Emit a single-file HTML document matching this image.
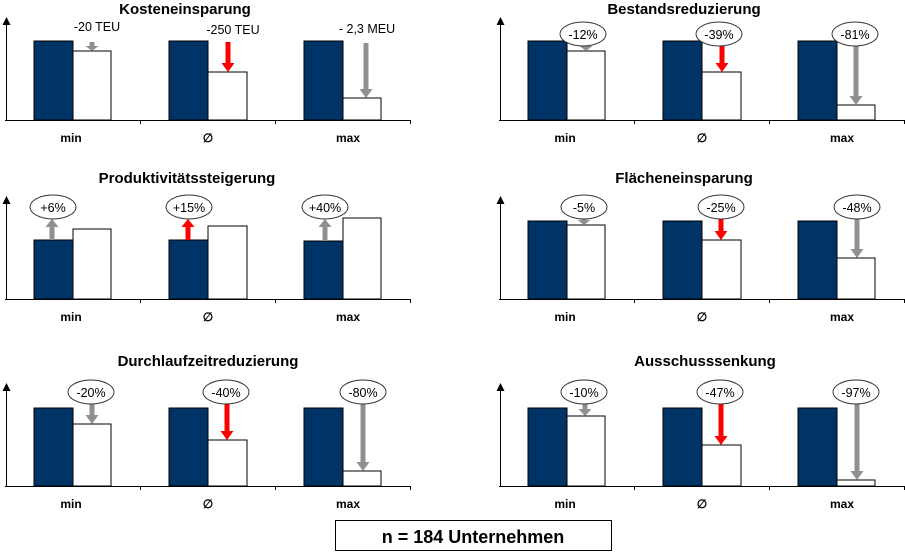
<!DOCTYPE html>
<html><head><meta charset="utf-8"><style>
html,body{margin:0;padding:0;background:#fff}
svg{display:block}
text{font-family:"Liberation Sans",Arial,sans-serif}
.t{font-size:15px;font-weight:bold;text-anchor:middle}
.l{font-size:12px;font-weight:bold;text-anchor:middle}
.v{font-size:12.5px;text-anchor:middle}
.d{fill:#003366;stroke:#000;stroke-width:1}
.w{fill:#fff;stroke:#000;stroke-width:1}
.e{fill:#fff;stroke:#333;stroke-width:1}
.g{fill:#909090}
.r{fill:#ff0000}
</style></head><body>
<svg width="905" height="553" viewBox="0 0 905 553" xmlns="http://www.w3.org/2000/svg">
<defs>
<g id="ax">
<line x1="6.5" y1="24" x2="6.5" y2="120" stroke="#000"/>
<polygon points="2.5,25 10.5,25 6.5,17" fill="#000"/>
<line x1="5" y1="120.5" x2="410" y2="120.5" stroke="#000"/>
<line x1="140.5" y1="120" x2="140.5" y2="124" stroke="#000"/>
<line x1="275.5" y1="120" x2="275.5" y2="124" stroke="#000"/>
<line x1="410.5" y1="120" x2="410.5" y2="124" stroke="#000"/>
<text class="l" x="71" y="142">min</text>
<text class="l" x="208" y="142">∅</text>
<text class="l" x="348" y="142">max</text>
</g>
</defs>

<!-- Panel 1: Kosteneinsparung -->
<g>
<use href="#ax"/>
<text class="t" x="185" y="14">Kosteneinsparung</text>
<rect class="d" x="34" y="41" width="39" height="79"/><rect class="w" x="73" y="51" width="38" height="69"/>
<rect class="d" x="169" y="41" width="39" height="79"/><rect class="w" x="208" y="72" width="39" height="48"/>
<rect class="d" x="304" y="41" width="39" height="79"/><rect class="w" x="343" y="98" width="38" height="22"/>
<text class="v" x="97" y="31">-20 TEU</text>
<text class="v" x="233" y="34">-250 TEU</text>
<text class="v" x="367" y="33">- 2,3 MEU</text>
<polygon class="g" points="89.5,42 94.5,42 94.5,46 98.5,46 92,51 85.5,46 89.5,46"/>
<polygon class="r" points="225.5,42 230.5,42 230.5,63 234.5,63 228,72 221.5,63 225.5,63"/>
<polygon class="g" points="363.5,43 368.5,43 368.5,89 372.5,89 366,98 359.5,89 363.5,89"/>
</g>

<!-- Panel 2: Bestandsreduzierung -->
<g transform="translate(494,0)">
<use href="#ax"/>
<text class="t" x="190" y="14">Bestandsreduzierung</text>
<rect class="d" x="34" y="41" width="39" height="79"/><rect class="w" x="73" y="51" width="38" height="69"/>
<rect class="d" x="169" y="41" width="39" height="79"/><rect class="w" x="208" y="72" width="39" height="48"/>
<rect class="d" x="304" y="41" width="39" height="79"/><rect class="w" x="343" y="105" width="38" height="15"/>
<polygon class="g" points="89.5,45 94.5,45 94.5,46 98.5,46 92,51 85.5,46 89.5,46"/>
<polygon class="r" points="225.5,45 230.5,45 230.5,63 234.5,63 228,72 221.5,63 225.5,63"/>
<polygon class="g" points="359.5,45 364.5,45 364.5,96 368.5,96 362,105 355.5,96 359.5,96"/>
<ellipse class="e" cx="89" cy="34" rx="23" ry="12"/><text class="v" x="89" y="39">-12%</text>
<ellipse class="e" cx="225" cy="34" rx="23" ry="12"/><text class="v" x="225" y="39">-39%</text>
<ellipse class="e" cx="361" cy="34" rx="23" ry="12"/><text class="v" x="361" y="39">-81%</text>
</g>

<!-- Panel 3: Produktivitätssteigerung -->
<g transform="translate(0,179)">
<use href="#ax"/>
<text class="t" x="187" y="4">Produktivitätssteigerung</text>
<rect class="d" x="34" y="61" width="39" height="59"/><rect class="w" x="73" y="50" width="38" height="70"/>
<rect class="d" x="169" y="61" width="39" height="59"/><rect class="w" x="208" y="47" width="39" height="73"/>
<rect class="d" x="304" y="62" width="39" height="58"/><rect class="w" x="343" y="39" width="38" height="81"/>
<polygon class="g" points="49.5,61 54.5,61 54.5,48 58.5,48 52,40 45.5,48 49.5,48"/>
<polygon class="r" points="185.5,61 190.5,61 190.5,48 194.5,48 188,40 181.5,48 185.5,48"/>
<polygon class="g" points="322.5,62 327.5,62 327.5,48 331.5,48 325,40 318.5,48 322.5,48"/>
<ellipse class="e" cx="53" cy="28" rx="23" ry="12"/><text class="v" x="53" y="33">+6%</text>
<ellipse class="e" cx="189" cy="28" rx="23" ry="12"/><text class="v" x="189" y="33">+15%</text>
<ellipse class="e" cx="325" cy="28" rx="23" ry="12"/><text class="v" x="325" y="33">+40%</text>
</g>

<!-- Panel 4: Flächeneinsparung -->
<g transform="translate(494,179)">
<use href="#ax"/>
<text class="t" x="190" y="4">Flächeneinsparung</text>
<rect class="d" x="34" y="42" width="39" height="78"/><rect class="w" x="73" y="46" width="38" height="74"/>
<rect class="d" x="169" y="42" width="39" height="78"/><rect class="w" x="208" y="61" width="39" height="59"/>
<rect class="d" x="304" y="42" width="39" height="78"/><rect class="w" x="343" y="79" width="38" height="41"/>
<polygon class="g" points="87.5,39 92.5,39 92.5,41 96.5,41 90,46 83.5,41 87.5,41"/>
<polygon class="r" points="224.5,39 229.5,39 229.5,52 233.5,52 227,61 220.5,52 224.5,52"/>
<polygon class="g" points="360.5,39 365.5,39 365.5,70 369.5,70 363,79 356.5,70 360.5,70"/>
<ellipse class="e" cx="90" cy="28" rx="23" ry="12"/><text class="v" x="90" y="33">-5%</text>
<ellipse class="e" cx="227" cy="28" rx="23" ry="12"/><text class="v" x="227" y="33">-25%</text>
<ellipse class="e" cx="363" cy="28" rx="23" ry="12"/><text class="v" x="363" y="33">-48%</text>
</g>

<!-- Panel 5: Durchlaufzeitreduzierung -->
<g transform="translate(0,366)">
<use href="#ax"/>
<text class="t" x="208" y="0">Durchlaufzeitreduzierung</text>
<rect class="d" x="34" y="42" width="39" height="78"/><rect class="w" x="73" y="58" width="38" height="62"/>
<rect class="d" x="169" y="42" width="39" height="78"/><rect class="w" x="208" y="74" width="39" height="46"/>
<rect class="d" x="304" y="42" width="39" height="78"/><rect class="w" x="343" y="105" width="38" height="15"/>
<polygon class="g" points="89.5,38 94.5,38 94.5,49 98.5,49 92,58 85.5,49 89.5,49"/>
<polygon class="r" points="224.5,38 229.5,38 229.5,65 233.5,65 227,74 220.5,65 224.5,65"/>
<polygon class="g" points="360.5,38 365.5,38 365.5,96 369.5,96 363,105 356.5,96 360.5,96"/>
<ellipse class="e" cx="91" cy="26" rx="23" ry="12"/><text class="v" x="91" y="31">-20%</text>
<ellipse class="e" cx="226" cy="26" rx="23" ry="12"/><text class="v" x="226" y="31">-40%</text>
<ellipse class="e" cx="363" cy="26" rx="23" ry="12"/><text class="v" x="363" y="31">-80%</text>
</g>

<!-- Panel 6: Ausschusssenkung -->
<g transform="translate(494,366)">
<use href="#ax"/>
<text class="t" x="211" y="0">Ausschusssenkung</text>
<rect class="d" x="34" y="42" width="39" height="78"/><rect class="w" x="73" y="50" width="38" height="70"/>
<rect class="d" x="169" y="42" width="39" height="78"/><rect class="w" x="208" y="79" width="39" height="41"/>
<rect class="d" x="304" y="42" width="39" height="78"/><rect class="w" x="343" y="114" width="38" height="6"/>
<polygon class="g" points="88.5,38 93.5,38 93.5,43 97.5,43 91,50 84.5,43 88.5,43"/>
<polygon class="r" points="224.5,38 229.5,38 229.5,70 233.5,70 227,79 220.5,70 224.5,70"/>
<polygon class="g" points="360.5,38 365.5,38 365.5,105 369.5,105 363,114 356.5,105 360.5,105"/>
<ellipse class="e" cx="90" cy="26" rx="23" ry="12"/><text class="v" x="90" y="31">-10%</text>
<ellipse class="e" cx="226" cy="26" rx="23" ry="12"/><text class="v" x="226" y="31">-47%</text>
<ellipse class="e" cx="362" cy="26" rx="23" ry="12"/><text class="v" x="362" y="31">-97%</text>
</g>

<rect x="335.5" y="520.5" width="276" height="30" fill="#fff" stroke="#000"/>
<text x="473" y="543" style="font-size:18px;font-weight:bold;text-anchor:middle">n = 184 Unternehmen</text>
</svg>
</body></html>
